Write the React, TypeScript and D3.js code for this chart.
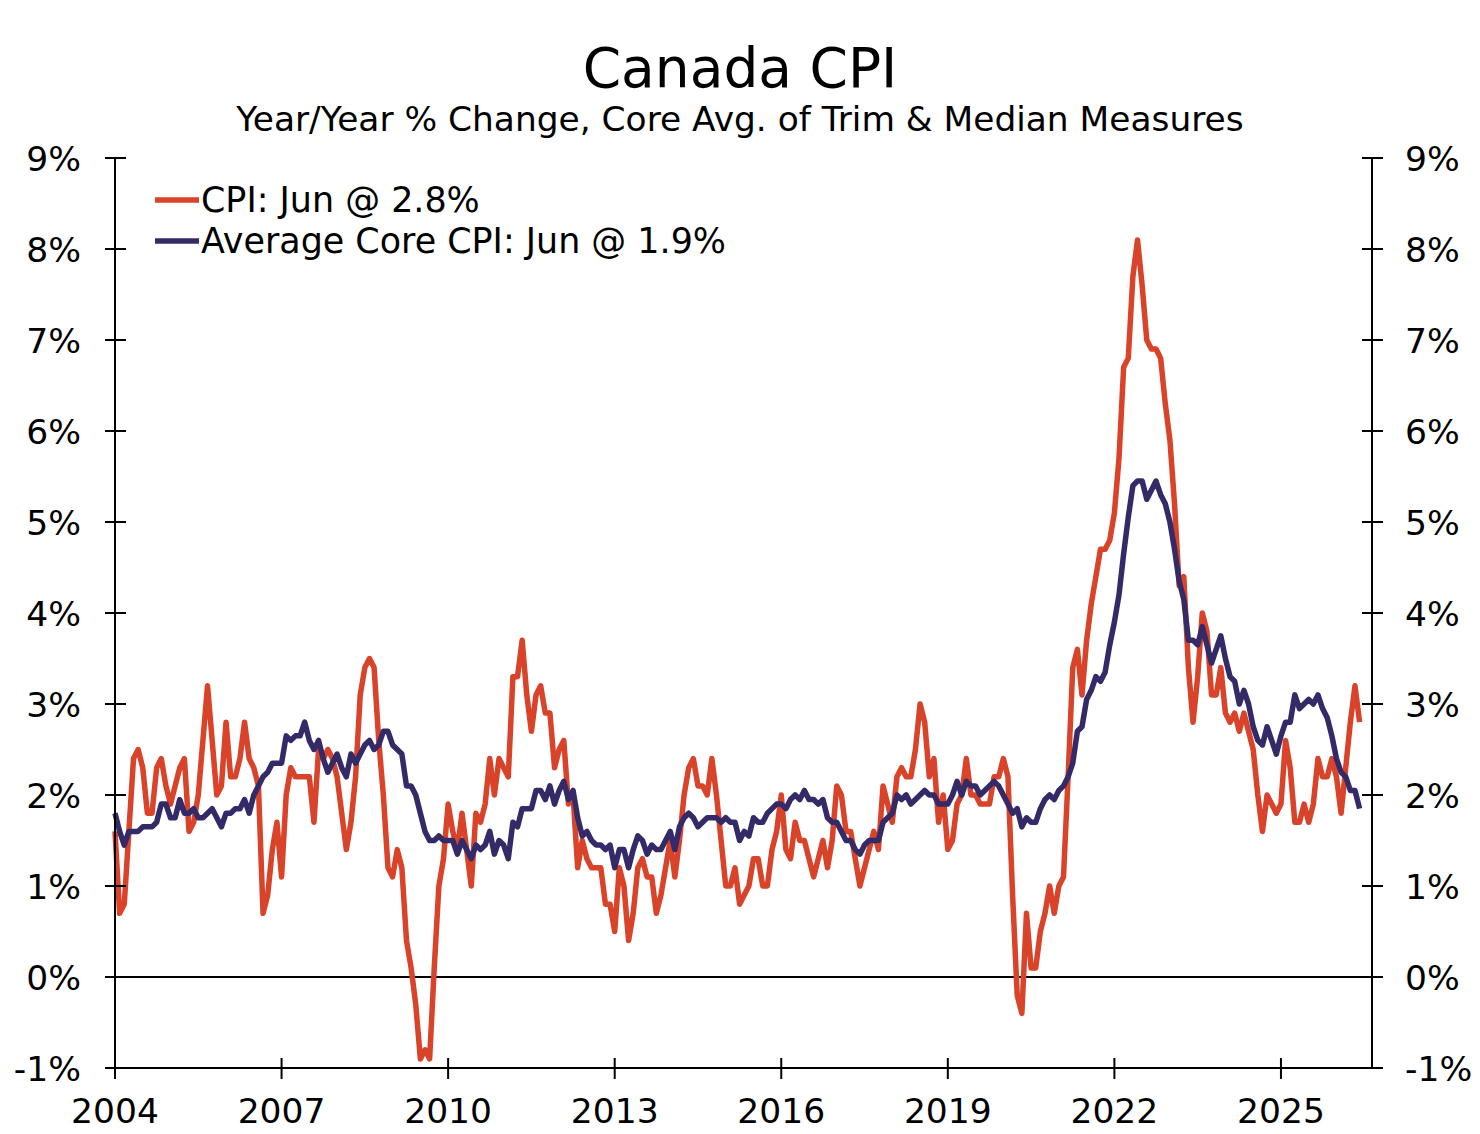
import React from "react";
import * as d3 from "d3";

// Monthly data, Jan 2004 .. Jun 2026
const startYear = 2004;

const cpiValues: number[] = [
  // 2004
  1.6, 0.7, 0.8, 1.6, 2.4, 2.5, 2.3, 1.8, 1.8, 2.3, 2.4, 2.1,
  // 2005
  1.9, 2.1, 2.3, 2.4, 1.6, 1.7, 2.0, 2.6, 3.2, 2.6, 2.0, 2.1,
  // 2006
  2.8, 2.2, 2.2, 2.4, 2.8, 2.4, 2.3, 2.1, 0.7, 0.9, 1.4, 1.7,
  // 2007
  1.1, 2.0, 2.3, 2.2, 2.2, 2.2, 2.2, 1.7, 2.5, 2.4, 2.5, 2.4,
  // 2008
  2.2, 1.8, 1.4, 1.7, 2.2, 3.1, 3.4, 3.5, 3.4, 2.6, 2.0, 1.2,
  // 2009
  1.1, 1.4, 1.2, 0.4, 0.1, -0.3, -0.9, -0.8, -0.9, 0.1, 1.0, 1.3,
  // 2010
  1.9, 1.6, 1.4, 1.8, 1.4, 1.0, 1.8, 1.7, 1.9, 2.4, 2.0, 2.4,
  // 2011
  2.3, 2.2, 3.3, 3.3, 3.7, 3.1, 2.7, 3.1, 3.2, 2.9, 2.9, 2.3,
  // 2012
  2.5, 2.6, 1.9, 2.0, 1.2, 1.5, 1.3, 1.2, 1.2, 1.2, 0.8, 0.8,
  // 2013
  0.5, 1.2, 1.0, 0.4, 0.7, 1.2, 1.3, 1.1, 1.1, 0.7, 0.9, 1.2,
  // 2014
  1.5, 1.1, 1.5, 2.0, 2.3, 2.4, 2.1, 2.1, 2.0, 2.4, 2.0, 1.5,
  // 2015
  1.0, 1.0, 1.2, 0.8, 0.9, 1.0, 1.3, 1.3, 1.0, 1.0, 1.4, 1.6,
  // 2016
  2.0, 1.4, 1.3, 1.7, 1.5, 1.5, 1.3, 1.1, 1.3, 1.5, 1.2, 1.5,
  // 2017
  2.1, 2.0, 1.6, 1.6, 1.3, 1.0, 1.2, 1.4, 1.6, 1.4, 2.1, 1.9,
  // 2018
  1.7, 2.2, 2.3, 2.2, 2.2, 2.5, 3.0, 2.8, 2.2, 2.4, 1.7, 2.0,
  // 2019
  1.4, 1.5, 1.9, 2.0, 2.4, 2.0, 2.0, 1.9, 1.9, 1.9, 2.2, 2.2,
  // 2020
  2.4, 2.2, 0.9, -0.2, -0.4, 0.7, 0.1, 0.1, 0.5, 0.7, 1.0, 0.7,
  // 2021
  1.0, 1.1, 2.2, 3.4, 3.6, 3.1, 3.7, 4.1, 4.4, 4.7, 4.7, 4.8,
  // 2022
  5.1, 5.7, 6.7, 6.8, 7.7, 8.1, 7.6, 7.0, 6.9, 6.9, 6.8, 6.3,
  // 2023
  5.9, 5.2, 4.3, 4.4, 3.4, 2.8, 3.3, 4.0, 3.8, 3.1, 3.1, 3.4,
  // 2024
  2.9, 2.8, 2.9, 2.7, 2.9, 2.7, 2.5, 2.0, 1.6, 2.0, 1.9, 1.8,
  // 2025
  1.9, 2.6, 2.3, 1.7, 1.7, 1.9, 1.7, 1.9, 2.4, 2.2, 2.2, 2.4,
  // 2026
  2.2, 1.8, 2.3, 2.8, 3.2, 2.8,
];

const coreValues: number[] = [
  // 2004
  1.8, 1.6, 1.45, 1.6, 1.6, 1.6, 1.65, 1.65, 1.65, 1.7, 1.9, 1.9,
  // 2005
  1.75, 1.75, 1.95, 1.8, 1.8, 1.85, 1.75, 1.75, 1.8, 1.85, 1.75, 1.65,
  // 2006
  1.8, 1.8, 1.85, 1.85, 1.95, 1.8, 2.0, 2.1, 2.2, 2.25, 2.35, 2.35,
  // 2007
  2.35, 2.65, 2.6, 2.65, 2.65, 2.8, 2.6, 2.5, 2.6, 2.4, 2.25, 2.35,
  // 2008
  2.45, 2.3, 2.2, 2.45, 2.35, 2.45, 2.55, 2.6, 2.5, 2.55, 2.7, 2.7,
  // 2009
  2.55, 2.5, 2.45, 2.1, 2.1, 2.0, 1.8, 1.6, 1.5, 1.5, 1.55, 1.5,
  // 2010
  1.5, 1.5, 1.35, 1.5, 1.4, 1.3, 1.45, 1.4, 1.45, 1.6, 1.35, 1.5,
  // 2011
  1.45, 1.3, 1.7, 1.65, 1.85, 1.85, 1.85, 2.05, 2.05, 1.95, 2.1, 1.9,
  // 2012
  2.05, 2.15, 1.95, 2.05, 1.75, 1.55, 1.6, 1.5, 1.45, 1.45, 1.4, 1.45,
  // 2013
  1.2, 1.4, 1.4, 1.2, 1.4, 1.55, 1.5, 1.35, 1.45, 1.4, 1.4, 1.5,
  // 2014
  1.6, 1.4, 1.65, 1.75, 1.8, 1.75, 1.65, 1.7, 1.75, 1.75, 1.75, 1.7,
  // 2015
  1.75, 1.7, 1.7, 1.5, 1.6, 1.55, 1.75, 1.7, 1.7, 1.8, 1.85, 1.9,
  // 2016
  1.9, 1.85, 1.95, 2.0, 1.95, 2.05, 1.95, 1.95, 1.9, 1.95, 1.75, 1.7,
  // 2017
  1.7, 1.6, 1.5, 1.5, 1.4, 1.35, 1.45, 1.5, 1.5, 1.5, 1.7, 1.75,
  // 2018
  1.8, 2.0, 1.95, 2.0, 1.9, 1.95, 2.0, 2.05, 2.0, 2.0, 1.9, 1.9,
  // 2019
  1.9, 2.0, 2.15, 2.0, 2.15, 2.1, 2.1, 2.0, 2.05, 2.1, 2.15, 2.1,
  // 2020
  2.0, 1.9, 1.8, 1.85, 1.65, 1.75, 1.7, 1.7, 1.85, 1.95, 2.0, 1.95,
  // 2021
  2.05, 2.1, 2.2, 2.35, 2.7, 2.75, 3.05, 3.15, 3.3, 3.25, 3.35, 3.65,
  // 2022
  3.9, 4.2, 4.65, 5.05, 5.4, 5.45, 5.45, 5.25, 5.35, 5.45, 5.3, 5.2,
  // 2023
  5.0, 4.7, 4.35, 4.15, 3.7, 3.7, 3.65, 3.85, 3.65, 3.45, 3.6, 3.75,
  // 2024
  3.5, 3.3, 3.25, 3.0, 3.15, 3.0, 2.75, 2.6, 2.55, 2.75, 2.6, 2.45,
  // 2025
  2.65, 2.8, 2.8, 3.1, 2.95, 3.0, 3.05, 3.0, 3.1, 2.95, 2.85, 2.65,
  // 2026
  2.4, 2.25, 2.2, 2.05, 2.05, 1.85,
];

const yTickValues: number[] = [-1, 0, 1, 2, 3, 4, 5, 6, 7, 8, 9];
const xTickYears: number[] = [2004, 2007, 2010, 2013, 2016, 2019, 2022, 2025];
const seriesLabels: string[] = ["CPI: Jun @ 2.8%", "Average Core CPI: Jun @ 1.9%"];
const seriesColors: string[] = ["#D8432A", "#342A68"];
const titleText = "Canada CPI";
const subtitleText = "Year/Year % Change, Core Avg. of Trim & Median Measures";

const FONT = "'DejaVu Sans', Verdana, sans-serif";

export default function App() {
  const W = 1480;
  const H = 1134;
  const left = 115;
  const right = 1372;
  const top = 158;
  const bottom = 1068;

  const x = d3.scaleLinear().domain([2004, 2026.64]).range([left, right]);
  const y = d3.scaleLinear().domain([-1, 9]).range([bottom, top]);

  const toT = (i: number) => startYear + i / 12;
  const lineGen = d3
    .line<number>()
    .x((_, i) => x(toT(i)))
    .y((d) => y(d))
    .curve(d3.curveLinear);

  const series = [cpiValues, coreValues];

  return (
    <div style={{ position: "absolute", left: 0, top: 0 }}>
      <svg width={W} height={H} style={{ display: "block", background: "#fff" }} fontFamily={FONT}>
        <rect x={0} y={0} width={W} height={H} fill="#fff" />
        <text x={740} y={87} textAnchor="middle" fontSize={55} fill="#000">
          {titleText}
        </text>
        <text x={740} y={131} textAnchor="middle" fontSize={34.4} fill="#000">
          {subtitleText}
        </text>

        {/* zero line */}
        <line x1={left} x2={right} y1={y(0)} y2={y(0)} stroke="#000" strokeWidth={2} />

        {/* series */}
        {series.map((s, k) => (
          <path
            key={k}
            d={lineGen(s) || ""}
            fill="none"
            stroke={seriesColors[k]}
            strokeWidth={5.5}
            strokeLinejoin="round"
            strokeLinecap="butt"
          />
        ))}

        {/* axes */}
        <line x1={left} x2={left} y1={top} y2={bottom} stroke="#000" strokeWidth={2} />
        <line x1={right} x2={right} y1={top} y2={bottom} stroke="#000" strokeWidth={2} />
        <line x1={left} x2={right} y1={bottom} y2={bottom} stroke="#000" strokeWidth={2} />

        {yTickValues.map((v) => (
          <g key={"yt" + v}>
            <line x1={left - 10} x2={left + 11} y1={y(v)} y2={y(v)} stroke="#000" strokeWidth={2} />
            <line x1={right - 10} x2={right + 11} y1={y(v)} y2={y(v)} stroke="#000" strokeWidth={2} />
            <text x={81} y={y(v) + 12.5} textAnchor="end" fontSize={34.5} fill="#000">
              {`${v}%`}
            </text>
            <text x={1405} y={y(v) + 12.5} textAnchor="start" fontSize={34.5} fill="#000">
              {`${v}%`}
            </text>
          </g>
        ))}

        {xTickYears.map((yr) => (
          <g key={"xt" + yr}>
            <line x1={x(yr)} x2={x(yr)} y1={bottom - 10} y2={bottom + 11} stroke="#000" strokeWidth={2} />
            <text x={x(yr)} y={1123} textAnchor="middle" fontSize={34.5} fill="#000">
              {String(yr)}
            </text>
          </g>
        ))}

        {/* legend */}
        {seriesLabels.map((lab, k) => (
          <g key={"lg" + k}>
            <line
              x1={155}
              x2={199}
              y1={200 + k * 41}
              y2={200 + k * 41}
              stroke={seriesColors[k]}
              strokeWidth={5.5}
            />
            <text x={201} y={212 + k * 41} fontSize={34.9} fill="#000">
              {lab}
            </text>
          </g>
        ))}
      </svg>
    </div>
  );
}
